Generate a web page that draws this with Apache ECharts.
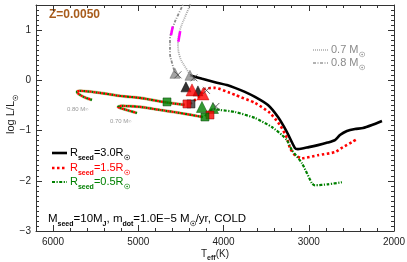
<!DOCTYPE html>
<html><head><meta charset="utf-8">
<script src="https://cdn.jsdelivr.net/npm/echarts@6/dist/echarts.min.js"></script>
<style>html,body{margin:0;padding:0;background:#fff}#c{width:407px;height:262px}</style>
</head><body><div id="c"></div>
<script>
const xTickLabels = [6000, 5000, 4000, 3000, 2000];
const yTickLabels = [-3, -2, -1, 0, 1];

const grey08 = [[4452,1.58],[4534,1.30],[4593,1.06],[4628,0.80],[4628,0.54],[4605,0.35],[4570,0.15]];
const grey07 = [[4370,1.58],[4452,1.26],[4511,1.00],[4534,0.74],[4511,0.46],[4429,0.21],[4394,0.11]];
const magenta08 = [[4596,1.07],[4616,0.90]];
const magenta07 = [[4508,0.98],[4530,0.77]];

const track08 = [[5543,-0.39],[5613,-0.35],[5684,-0.29],[5719,-0.23],[5684,-0.21],[5449,-0.25],[5215,-0.31],[4980,-0.35],[4710,-0.43],[4452,-0.49]];
const track07 = [[5015,-0.65],[5097,-0.61],[5156,-0.58],[5238,-0.53],[5203,-0.51],[4980,-0.53],[4745,-0.59],[4511,-0.65],[4241,-0.73]];

const rseed30 = [[4394,0.10],[4250,0.03],[4100,-0.04],[3950,-0.10],[3866,-0.15],[3750,-0.23],[3631,-0.33],[3479,-0.49],[3361,-0.73],[3256,-1.03],[3162,-1.35],[3127,-1.37],[3000,-1.33],[2892,-1.29],[2780,-1.24],[2693,-1.19],[2634,-1.09],[2552,-1.01],[2458,-0.97],[2364,-0.95],[2259,-0.89],[2141,-0.81]];
const rseed15 = [[4394,-0.47],[4276,-0.31],[4218,-0.17],[4100,-0.15],[3924,-0.25],[3866,-0.29],[3631,-0.45],[3455,-0.65],[3338,-0.89],[3256,-1.15],[3220,-1.35],[3162,-1.49],[3080,-1.55],[2892,-1.49],[2693,-1.43],[2599,-1.33],[2493,-1.23],[2435,-1.17]];
const rseed05 = [[4218,-0.71],[4124,-0.57],[4042,-0.59],[3866,-0.63],[3631,-0.75],[3432,-0.93],[3314,-1.09],[3256,-1.19],[3197,-1.39],[3080,-1.65],[2963,-2.05],[2927,-2.09],[2775,-2.07],[2611,-2.03]];

const triGrey = [[4570,0.14],[4394,0.10]];
const triBlack = [[4441,-0.13],[4300,-0.21]];
const triRed = [[4370,-0.19],[4241,-0.27]];
const triGreen = [[4253,-0.53],[4124,-0.55]];
const sqGreen = [[4663,-0.43],[4218,-0.73]];
const sqBlack = [[4382,-0.47]];
const sqRed = [[4429,-0.47],[4159,-0.69]];
const crosses = [[4535,0.11],[4347,0.05],[4200,-0.20],[4090,-0.52]];

const FONT = 'Liberation Sans';
const AX = '#333';
function xAx(pos, interval, major) {
  return {type:'value', min:2000, max:6200, inverse:true, interval, position:pos,
    axisLine:{show:major, onZero:false, lineStyle:{color:AX, width:1}},
    axisTick:{show:true, inside:true, length: major?6:3, lineStyle:{color:AX, width:1}},
    axisLabel:{show: major && pos==='bottom', margin:6, fontSize:10, color:'#222', fontFamily:FONT,
      formatter: v => xTickLabels.includes(v) ? String(v) : ''},
    splitLine:{show:false}};
}
function yAx(pos, interval, major) {
  return {type:'value', min:-3, max:1.5, interval, position:pos,
    axisLine:{show:major, onZero:false, lineStyle:{color:AX, width:1}},
    axisTick:{show:true, inside:true, length: major?6:3, lineStyle:{color:AX, width:1}},
    axisLabel:{show: major && pos==='left', margin:5, fontSize:10, color:'#222', fontFamily:FONT,
      formatter: v => yTickLabels.includes(v) ? String(v).replace('-', '\u2212') : ''},
    splitLine:{show:false}};
}
function line(data, color, width, type, extra) {
  return Object.assign({type:'line', data, symbol:'none', showSymbol:false, silent:true,
    lineStyle:{color, width, type}, z:2}, extra||{});
}
function scat(data, symbol, size, color, border, extra) {
  return Object.assign({type:'scatter', data, symbol, symbolSize:size, silent:true, z:5,
    itemStyle:{color, borderColor:border||color, borderWidth:0.6}}, extra||{});
}
const sub = {fontSize:7, fontWeight:'bold', verticalAlign:'bottom', lineHeight:6, padding:[0,0,-3,0]};
function legendText(x, y, txt, color, size) {
  size = size || 11;
  return {type:'text', x, y, style:{text:txt, fill:color, font:size+'px '+FONT, verticalAlign:'middle',
    rich:{s:Object.assign({fill:color, fontFamily:FONT}, sub)}}};
}

const chart = echarts.init(document.getElementById('c'), null, {renderer:'canvas'});
chart.setOption({
  animation:false,
  backgroundColor:'#fff',
  grid:{left:36, right:13, top:5, bottom:31, containLabel:false, outerBoundsMode:'none'},
  xAxis:[xAx('bottom',1000,true), xAx('bottom',200,false), xAx('top',1000,true), xAx('top',200,false)],
  yAxis:[yAx('left',1,true), yAx('left',0.1,false), yAx('right',1,true), yAx('right',0.1,false)],
  series:[
    line(grey08, '#8a8a8a', 1.8, [3,1.5,1,1.5], {smooth:0.4}),
    line(grey07, '#aaa', 1.8, [1,1], {smooth:0.4}),
    line(magenta08, '#ff00ff', 2.5, 'solid', {z:3}),
    line(magenta07, '#ff00ff', 2.5, 'solid', {z:3}),
    line(track08, '#d8cfa8', 3.2, 'solid', {smooth:0.3}),
    line(track08, '#008000', 2.2, [2,2], {smooth:0.3, z:3}),
    line(track08, '#ff0000', 2.2, [2,2], {smooth:0.3, z:3, lineStyle:{color:'#ff0000', width:2.2, type:[2,2], dashOffset:2}}),
    line(track07, '#d8cfa8', 3.2, 'solid', {smooth:0.3}),
    line(track07, '#008000', 2.2, [2,2], {smooth:0.3, z:3}),
    line(track07, '#ff0000', 2.2, [2,2], {smooth:0.3, z:3, lineStyle:{color:'#ff0000', width:2.2, type:[2,2], dashOffset:2}}),
    line(rseed30, '#000', 2.6, 'solid', {smooth:0.2, z:4}),
    line(rseed15, '#ff0000', 2.6, [2.5,2.5], {smooth:0.2, z:4}),
    line(rseed05, '#008000', 2.2, [3,1.5,1.2,1.5], {smooth:0.2, z:4}),
    scat(triGrey, 'triangle', 10, '#8c8c8c', '#666'),
    scat(triBlack, 'triangle', 10, '#000', '#000'),
    scat(triRed, 'triangle', 12, '#ff0000', '#c00000'),
    scat(triGreen, 'triangle', 11, '#008000', '#005000'),
    scat(sqBlack, 'rect', 8, '#333', '#000'),
    scat(sqRed, 'rect', 8, '#ff0000', '#800000'),
    scat(sqGreen, 'rect', 8, '#008000', '#004000'),
    scat(crosses, 'path://M0,0L10,10M10,0L0,10', 7, 'none', '#444', {itemStyle:{color:'none', borderColor:'#444', borderWidth:1}})
  ],
  graphic:[
    {type:'text', x:49, y:15, style:{text:'Z=0.0050', font:'bold 12px '+FONT, fill:'#a85c1c', verticalAlign:'middle'}},
    {type:'line', shape:{x1:313,y1:50,x2:328,y2:50}, style:{stroke:'#aaa', lineWidth:1.5, lineDash:[1,1]}},
    {type:'line', shape:{x1:313,y1:63,x2:328,y2:63}, style:{stroke:'#999', lineWidth:1.5, lineDash:[3,1.5,1,1.5]}},
    {type:'text', x:331, y:50, style:{text:'0.7 M{s|☉}', fill:'#8a8a8a', font:'11px '+FONT, verticalAlign:'middle', rich:{s:Object.assign({fill:'#8a8a8a'}, sub)}}},
    {type:'text', x:331, y:63, style:{text:'0.8 M{s|☉}', fill:'#8a8a8a', font:'11px '+FONT, verticalAlign:'middle', rich:{s:Object.assign({fill:'#8a8a8a'}, sub)}}},
    {type:'text', x:67, y:109, style:{text:'0.80 M{s|☉}', fill:'#999', font:'6px '+FONT, verticalAlign:'middle', rich:{s:{fontSize:4, fill:'#999', verticalAlign:'bottom'}}}},
    {type:'text', x:110, y:121, style:{text:'0.70 M{s|☉}', fill:'#999', font:'6px '+FONT, verticalAlign:'middle', rich:{s:{fontSize:4, fill:'#999', verticalAlign:'bottom'}}}},
    {type:'line', shape:{x1:52,y1:153,x2:67,y2:153}, style:{stroke:'#000', lineWidth:2.6}},
    {type:'line', shape:{x1:52,y1:168,x2:67,y2:168}, style:{stroke:'#ff0000', lineWidth:2.6, lineDash:[2.5,2.5]}},
    {type:'line', shape:{x1:52,y1:182,x2:67,y2:182}, style:{stroke:'#008000', lineWidth:2.2, lineDash:[3,1.5,1.2,1.5]}},
    legendText(70, 153, 'R{s|seed}=3.0R{s|☉}', '#000'),
    legendText(70, 168, 'R{s|seed}=1.5R{s|☉}', '#ff0000'),
    legendText(70, 182, 'R{s|seed}=0.5R{s|☉}', '#008000'),
    legendText(48, 219, 'M{s|seed}=10M{s|J}, m{s|dot}=1.0E\u22125 M{s|☉}/yr, COLD', '#000', 11.5),
    {type:'text', x:11, y:134, rotation:Math.PI/2, style:{text:'log L/L{s|☉}', fill:'#222', font:'11px '+FONT, align:'left', verticalAlign:'middle', rich:{s:Object.assign({fill:'#222'}, sub)}}},
    {type:'text', x:215, y:254, style:{text:'T{s|eff}(K)', fill:'#222', font:'10px '+FONT, align:'center', verticalAlign:'middle', rich:{s:Object.assign({fill:'#222'}, sub)}}}
  ]
});
</script></body></html>
